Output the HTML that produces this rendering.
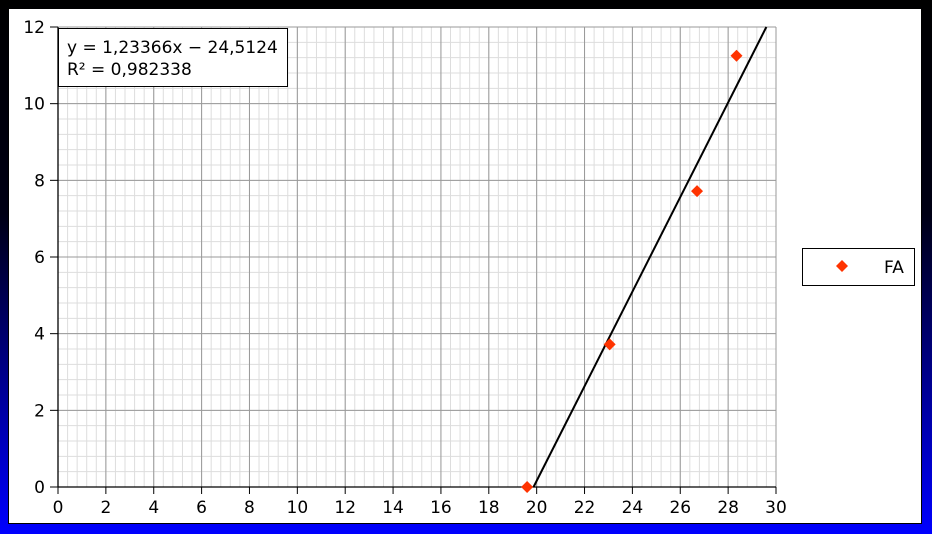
<!DOCTYPE html>
<html><head><meta charset="utf-8"><style>
html,body{margin:0;padding:0;}
body{width:932px;height:534px;overflow:hidden;background:linear-gradient(#000 0%,#000014 40%,#0000ff 100%);font-family:"DejaVu Sans","Liberation Sans",sans-serif;}
#panel{position:absolute;left:8px;top:8px;width:914px;height:516px;background:#fff;border:1px solid #000;box-sizing:border-box;}
svg{position:absolute;left:0;top:0;}
</style></head><body>
<div id="panel"></div>
<svg id="chart" width="932" height="534"></svg>
<script>
const xs = [19.6, 23.05, 26.7, 28.35];
const ys = [0, 3.72, 7.72, 11.25];
const xTicks = [0,2,4,6,8,10,12,14,16,18,20,22,24,26,28,30];
const yTicks = [0,2,4,6,8,10,12];
const slope = 1.23366, intercept = -24.5124;
const eqText = ["y = 1,23366x \u2212 24,5124","R\u00b2 = 0,982338"];
const seriesName = "FA";

const X0=58,X1=776,Y0=487,Y1=27;
const sx=v=>X0+(v-0)/30*(X1-X0);
const sy=v=>Y0-(v-0)/12*(Y0-Y1);
const svg=document.getElementById('chart');
const NS='http://www.w3.org/2000/svg';
function mk(tag,attrs,parent){const e=document.createElementNS(NS,tag);for(const k in attrs)e.setAttribute(k,attrs[k]);(parent||svg).appendChild(e);return e;}

const grid=mk('g',{});


for(let v=0;v<=30.001;v+=0.4){const x=sx(v);mk('line',{x1:x,x2:x,y1:Y1,y2:Y0,stroke:'#dddddd','stroke-width':1},grid);}
for(let v=0;v<=12.001;v+=0.4){const y=sy(v);mk('line',{x1:X0,x2:X1,y1:y,y2:y,stroke:'#dddddd','stroke-width':1},grid);}
xTicks.forEach(v=>{const x=sx(v);mk('line',{x1:x,x2:x,y1:Y1,y2:Y0,stroke:'#999','stroke-width':1},grid);});
yTicks.forEach(v=>{const y=sy(v);mk('line',{x1:X0,x2:X1,y1:y,y2:y,stroke:'#999','stroke-width':1},grid);});

const ax=mk('g',{});


mk('line',{x1:X0,x2:X0,y1:Y1,y2:Y0,stroke:'#000','stroke-width':1.3},ax);
mk('line',{x1:X0,x2:X1,y1:Y0,y2:Y0,stroke:'#000','stroke-width':1.3},ax);
xTicks.forEach(v=>{const x=sx(v);mk('line',{x1:x,x2:x,y1:Y0,y2:Y0+7,stroke:'#000'},ax);
 const t=mk('text',{x:x,y:Y0+26,'text-anchor':'middle','font-size':17,fill:'#000'},ax);t.textContent=v;
 
 });
yTicks.forEach(v=>{const y=sy(v);mk('line',{x1:X0-8,x2:X0,y1:y,y2:y,stroke:'#000'},ax);
 const t=mk('text',{x:X0-13,y:y+6,'text-anchor':'end','font-size':17,fill:'#000'},ax);t.textContent=v;
 
 });

const xa=-intercept/slope, xb=(12-intercept)/slope;
const tl=mk('line',{x1:sx(xa),y1:sy(0),x2:sx(xb),y2:sy(12),stroke:'#000','stroke-width':2});



xs.forEach((v,i)=>{const x=sx(v),y=sy(ys[i]);
 const p=mk('polygon',{points:`${x},${y-6} ${x+6},${y} ${x},${y+6} ${x-6},${y}`,fill:'#ff3300'});
 
 });

const eq=mk('g',{});


mk('rect',{x:58.5,y:28.5,width:229,height:58,fill:'#fff',stroke:'#000'},eq);
eqText.forEach((s,i)=>{const t=mk('text',{x:67,y:53+i*22,'font-size':17,fill:'#000'},eq);t.textContent=s;});

const lg=mk('g',{});


mk('rect',{x:802.5,y:248.5,width:112,height:37,fill:'#fff',stroke:'#000'},lg);
mk('polygon',{points:'842,260 848,266 842,272 836,266',fill:'#ff3300'},lg);
const lt=mk('text',{x:884,y:273,'font-size':17,fill:'#000'},lg);lt.textContent=seriesName;


</script>
</body></html>
